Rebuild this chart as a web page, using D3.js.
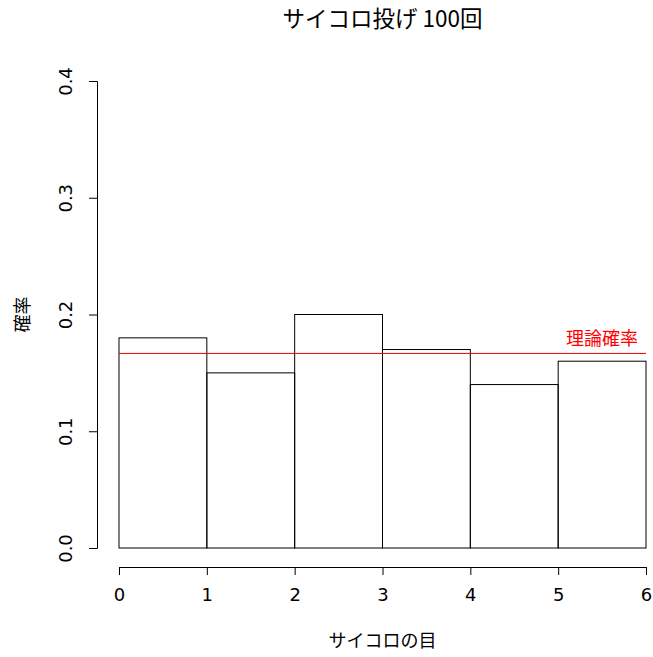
<!DOCTYPE html>
<html>
<head>
<meta charset="utf-8">
<script src="https://cdn.jsdelivr.net/npm/d3@7"></script>
<style>
  body { margin: 0; background: #fff; }
  text { font-family: "Noto Sans CJK JP", "DejaVu Sans", sans-serif; fill: #000; }
  .tick text { font-family: "DejaVu Sans", sans-serif; font-size: 18px; }
</style>
</head>
<body>
<div id="chart"></div>
<script>
// histogram of 100 dice throws, bin edges 0..6
var binStarts = [0, 1, 2, 3, 4, 5];
var probabilities = [0.18, 0.15, 0.20, 0.17, 0.14, 0.16];
var xTicks = [0, 1, 2, 3, 4, 5, 6];
var yTicks = [0.0, 0.1, 0.2, 0.3, 0.4];
var theoryProb = 1 / 6;

var width = 653;
var height = 657;

var svg = d3.select('#chart').append('svg')
    .attr('width', width)
    .attr('height', height);

var xScale = d3.scaleLinear()
    .domain([0, 6])
    .range([119, 646]);

var yScale = d3.scaleLinear()
    .domain([0, 0.4])
    .range([548, 81]);

// bars
svg.append('g').selectAll('rect')
    .data(binStarts)
    .enter()
    .append('rect')
    .attr('x', function (d) { return xScale(d); })
    .attr('y', function (d, i) { return yScale(probabilities[i]); })
    .attr('width', function (d) { return xScale(d + 1) - xScale(d); })
    .attr('height', function (d, i) { return yScale(0) - yScale(probabilities[i]); })
    .attr('fill', 'none')
    .attr('stroke', '#000')
    .attr('stroke-width', 1);

// x axis (R style, offset below plot)
var xAxis = svg.append('g')
    .attr('transform', 'translate(0,567)')
    .call(d3.axisBottom(xScale).tickValues(xTicks).tickSize(8).tickPadding(13)
        .tickFormat(d3.format('d')));
xAxis.selectAll('line, path').attr('stroke', '#000');

// y axis
var yAxis = svg.append('g')
    .attr('transform', 'translate(97,0)')
    .call(d3.axisLeft(yScale).tickValues(yTicks).tickSize(8).tickFormat(d3.format('.1f')));
yAxis.selectAll('line, path').attr('stroke', '#000');
yAxis.selectAll('text')
    .attr('text-anchor', 'middle')
    .attr('x', 0)
    .attr('dy', 0)
    .attr('transform', 'translate(-25,0) rotate(-90)');

// theoretical probability line
svg.append('line')
    .attr('x1', xScale(0))
    .attr('x2', xScale(6))
    .attr('y1', yScale(theoryProb))
    .attr('y2', yScale(theoryProb))
    .attr('stroke', '#e00000')
    .attr('stroke-width', 1);

svg.append('text')
    .attr('x', 638)
    .attr('y', yScale(theoryProb) - 8)
    .attr('text-anchor', 'end')
    .style('font-size', '18px')
    .style('fill', '#ff0000')
    .text('理論確率');

// title
svg.append('text')
    .attr('x', (xScale(0) + xScale(6)) / 2)
    .attr('y', 27)
    .attr('text-anchor', 'middle')
    .style('font-size', '22.5px')
    .text('サイコロ投げ 100回');

// axis titles
svg.append('text')
    .attr('x', (xScale(0) + xScale(6)) / 2)
    .attr('y', 647)
    .attr('text-anchor', 'middle')
    .style('font-size', '18px')
    .text('サイコロの目');

svg.append('text')
    .attr('transform', 'translate(29,' + yScale(0.2) + ') rotate(-90)')
    .attr('text-anchor', 'middle')
    .style('font-size', '18px')
    .text('確率');
</script>
</body>
</html>
